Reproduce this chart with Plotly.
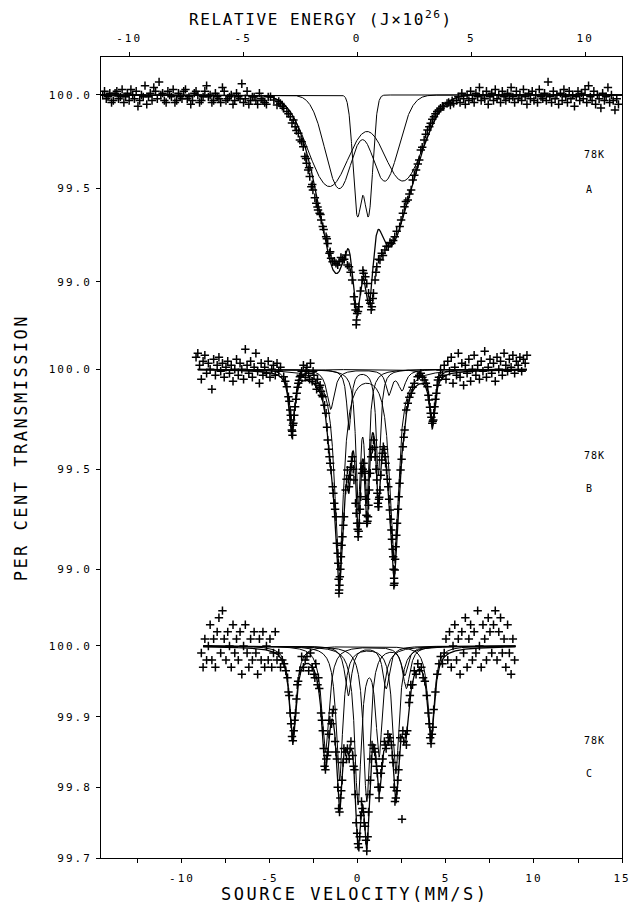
import numpy as np
import plotly.graph_objects as go

# ---------------- tick labels ----------------
x_tick_vals = [-12.5, -10, -7.5, -5, -2.5, 0, 2.5, 5, 7.5, 10, 12.5, 15]
x_tick_text = ["", "-10", "", "-5", "", "0", "", "5", "", "10", "", "15"]
x2_tick_vals = [-10, -5, 0, 5, 10]
x2_tick_text = ["-10", "-5", "0", "5", "10"]
yA_tick_vals = [100.0, 99.5, 99.0]
yA_tick_text = ["100.0", "99.5", "99.0"]
yB_tick_vals = [100.0, 99.5, 99.0]
yB_tick_text = ["100.0", "99.5", "99.0"]
yC_tick_vals = [100.0, 99.9, 99.8, 99.7]
yC_tick_text = ["100.0", "99.9", "99.8", "99.7"]

panel_temp = ["78K", "78K", "78K"]
panel_name = ["A", "B", "C"]

# ---------------- fitted line parameters ----------------
# Panel A (broad lines, gaussian-like shape): centre mm/s, depth %, sigma mm/s, component
A_line_pos = [-1.63, 2.55, -1.07, 1.53, -0.04, 0.60]
A_line_depth = [0.49, 0.46, 0.50, 0.46, 0.63, 0.63]
A_line_sigma = [1.20, 1.15, 0.78, 0.78, 0.245, 0.245]
A_line_comp = [0, 0, 1, 1, 2, 2]

# Panel B (lorentzian): centre, depth, FWHM, component
B_line_pos = [-1.07, 2.05, -0.51, 1.16, 0.01, 0.51, -1.55, 1.75, 2.50, -3.76, 4.22]
B_line_depth = [1.00, 0.95, 0.30, 0.53, 0.66, 0.62, 0.20, 0.12, 0.10, 0.32, 0.27]
B_line_fwhm = [0.60, 0.60, 0.30, 0.30, 0.30, 0.30, 0.50, 0.40, 0.50, 0.36, 0.36]
B_line_comp = [0, 0, 1, 1, 2, 2, 3, 3, 3, 4, 4]

# Panel C (lorentzian)
C_line_pos = [-1.05, 2.15, -0.55, 1.60, 0.00, 1.20, 0.50, 2.65, -3.70, 4.15, -1.85, 2.75]
C_line_depth = [0.19, 0.18, 0.07, 0.06, 0.22, 0.15, 0.22, 0.04, 0.13, 0.13, 0.15, 0.06]
C_line_fwhm = [0.45, 0.45, 0.45, 0.45, 0.45, 0.45, 0.45, 0.45, 0.45, 0.45, 0.50, 0.50]
C_line_comp = [0, 0, 1, 1, 2, 2, 3, 3, 4, 4, 5, 5]

A_fit_span = [-14.6, 15.0]
B_fit_span = [-9.1, 9.6]
C_fit_span = [-8.8, 8.95]

# ---------------- measured points (velocity mm/s, per cent transmission) ----------------
A_base_left = [
    (-14.5, 100.00), (-14.4, 100.02), (-14.3, 99.98), (-14.2, 99.99), (-14.1, 100.01),
    (-14.0, 99.96), (-13.9, 99.97), (-13.8, 100.01), (-13.7, 100.02), (-13.6, 99.98),
    (-13.5, 99.99), (-13.4, 100.03), (-13.3, 99.96), (-13.2, 99.99), (-13.1, 100.01),
    (-13.0, 99.97), (-12.9, 100.03), (-12.8, 100.00), (-12.7, 99.98), (-12.6, 100.02),
    (-12.5, 99.94), (-12.4, 99.97), (-12.3, 100.00), (-12.2, 99.99), (-12.1, 100.05),
    (-12.0, 99.95), (-11.9, 99.99), (-11.8, 100.01), (-11.7, 99.97), (-11.6, 100.04),
    (-11.5, 100.02), (-11.4, 99.98), (-11.3, 100.07), (-11.2, 100.00), (-11.1, 100.01),
    (-11.0, 99.97), (-10.9, 99.96), (-10.8, 100.02), (-10.7, 100.00), (-10.6, 99.99),
    (-10.5, 100.03), (-10.4, 99.96), (-10.3, 99.97), (-10.2, 100.01), (-10.1, 99.99),
    (-10.0, 99.98), (-9.9, 100.02), (-9.8, 100.03), (-9.7, 99.98), (-9.6, 99.99),
    (-9.5, 99.95), (-9.4, 99.97), (-9.3, 100.01), (-9.2, 100.02), (-9.1, 100.00),
    (-9.0, 99.96), (-8.9, 99.97), (-8.8, 99.99), (-8.7, 100.02), (-8.6, 100.05),
    (-8.5, 99.99), (-8.4, 100.00), (-8.3, 99.96), (-8.2, 99.97), (-8.1, 100.01),
    (-8.0, 99.99), (-7.9, 99.98), (-7.8, 99.96), (-7.7, 100.04), (-7.6, 100.02),
    (-7.5, 99.97), (-7.4, 99.98), (-7.3, 99.99), (-7.2, 100.00), (-7.1, 99.95),
    (-7.0, 99.97), (-6.9, 100.01), (-6.8, 99.99), (-6.7, 99.98), (-6.6, 100.06),
    (-6.5, 99.96), (-6.4, 99.98), (-6.3, 100.02), (-6.2, 99.95), (-6.1, 99.97),
    (-6.0, 99.99), (-5.9, 99.99), (-5.8, 99.97), (-5.7, 99.95), (-5.6, 100.01),
    (-5.5, 99.98), (-5.4, 99.97), (-5.3, 99.96), (-5.2, 99.95), (-5.1, 99.99),
]
A_core = [
    (-4.97, 99.991), (-4.78, 99.973), (-4.60, 99.946), (-4.41, 99.955), (-4.22, 99.929),
    (-4.04, 99.911), (-3.85, 99.884), (-3.67, 99.866), (-3.57, 99.830), (-3.39, 99.795),
    (-3.30, 99.759), (-3.11, 99.723), (-3.02, 99.670), (-2.92, 99.634), (-2.83, 99.598),
    (-2.74, 99.563), (-2.65, 99.509), (-2.56, 99.491), (-2.37, 99.420), (-2.27, 99.384),
    (-2.18, 99.366), (-2.09, 99.330), (-2.00, 99.295), (-1.81, 99.241), (-1.72, 99.205),
    (-1.62, 99.152), (-1.53, 99.125), (-1.44, 99.107), (-1.25, 99.098), (-1.07, 99.107),
    (-0.88, 99.116), (-0.70, 99.143), (-0.60, 99.089), (-0.51, 99.080), (-0.33, 99.009),
    (-0.23, 98.920), (-0.14, 98.848), (-0.08, 98.795), (-0.05, 98.830), (0.05, 98.866),
    (0.23, 99.009), (0.32, 99.045), (0.42, 99.027), (0.60, 98.938), (0.70, 98.884),
    (0.79, 98.866), (0.88, 98.938), (0.97, 99.009), (1.07, 99.080), (1.25, 99.116),
    (1.35, 99.152), (1.53, 99.170), (1.72, 99.188), (1.90, 99.205), (2.09, 99.241),
    (2.37, 99.295), (2.55, 99.366), (2.64, 99.402), (2.83, 99.438), (3.02, 99.491),
    (3.11, 99.545), (3.30, 99.598), (3.48, 99.652), (3.57, 99.705), (3.76, 99.759),
    (3.95, 99.813), (4.13, 99.848), (4.32, 99.884), (4.50, 99.911), (4.69, 99.929),
    (4.87, 99.938), (5.06, 99.955), (5.25, 99.946), (5.43, 99.955),
]
A_core_extra = [
    (-4.5, 99.965), (-4.3, 99.94), (-3.95, 99.90), (-3.75, 99.85), (-3.5, 99.81),
    (-3.2, 99.75), (-2.95, 99.66), (-2.78, 99.61), (-2.6, 99.52), (-2.45, 99.45),
    (-2.3, 99.40), (-2.13, 99.36), (-1.95, 99.28), (-1.77, 99.23), (-1.58, 99.16),
    (-1.35, 99.11), (-1.15, 99.09), (-0.97, 99.13), (-0.78, 99.12), (-0.42, 99.05),
    (-0.19, 98.88), (-0.10, 98.77), (0.00, 98.84), (0.14, 98.95), (0.28, 99.06),
    (0.50, 98.99), (0.65, 98.90), (0.75, 98.85), (0.84, 98.91), (1.02, 99.05),
    (1.17, 99.12), (1.42, 99.14), (1.62, 99.19), (1.82, 99.21), (2.00, 99.22),
    (2.20, 99.27), (2.45, 99.33), (2.72, 99.43), (2.92, 99.47), (3.20, 99.57),
    (3.40, 99.63), (3.65, 99.72), (3.85, 99.79), (4.05, 99.83), (4.22, 99.87),
    (4.40, 99.90), (4.60, 99.92), (4.80, 99.94), (5.15, 99.96), (5.35, 99.97),
]
A_base_right = [
    (5.6, 99.97), (5.7, 99.99), (5.8, 99.96), (5.9, 100.01), (6.0, 99.98),
    (6.1, 99.95), (6.2, 100.00), (6.3, 99.97), (6.4, 100.02), (6.5, 99.98),
    (6.6, 99.96), (6.7, 100.01), (6.8, 99.99), (6.9, 100.04), (7.0, 99.97),
    (7.1, 100.00), (7.2, 99.98), (7.3, 100.02), (7.4, 99.95), (7.5, 99.99),
    (7.6, 100.01), (7.7, 99.97), (7.8, 100.03), (7.9, 99.98), (8.0, 100.00),
    (8.1, 99.96), (8.2, 100.02), (8.3, 99.99), (8.4, 99.97), (8.5, 100.01),
    (8.6, 99.98), (8.7, 100.04), (8.8, 99.99), (8.9, 99.96), (9.0, 100.02),
    (9.1, 99.98), (9.2, 100.00), (9.3, 99.97), (9.4, 100.03), (9.5, 99.99),
    (9.6, 99.95), (9.7, 100.01), (9.8, 99.98), (9.9, 100.02), (10.0, 99.97),
    (10.1, 100.00), (10.2, 99.96), (10.3, 100.03), (10.4, 99.99), (10.5, 99.98),
    (10.6, 100.01), (10.7, 99.97), (10.8, 100.07), (10.9, 99.99), (11.0, 99.96),
    (11.1, 100.02), (11.2, 99.98), (11.3, 100.00), (11.4, 99.95), (11.5, 100.01),
    (11.6, 99.97), (11.7, 100.03), (11.8, 99.99), (11.9, 99.96), (12.0, 100.02),
    (12.1, 99.98), (12.2, 100.00), (12.3, 99.94), (12.4, 99.99), (12.5, 100.02),
    (12.6, 99.97), (12.7, 100.01), (12.8, 99.98), (12.9, 100.03), (13.0, 99.96),
    (13.1, 100.05), (13.2, 99.99), (13.3, 99.97), (13.4, 100.02), (13.5, 99.95),
    (13.6, 100.00), (13.7, 99.98), (13.8, 99.93), (13.9, 100.01), (14.0, 99.97),
    (14.1, 99.99), (14.2, 100.04), (14.3, 99.96), (14.4, 100.00), (14.5, 99.97),
    (14.6, 99.92), (14.7, 99.98), (14.8, 99.95),
]

B_base_left = [
    (-9.2, 100.06), (-9.1, 100.08), (-9.0, 100.02), (-8.9, 99.95), (-8.8, 100.04),
    (-8.7, 100.07), (-8.6, 99.98), (-8.5, 100.03), (-8.4, 100.00), (-8.3, 99.90),
    (-8.2, 100.05), (-8.1, 99.97), (-8.0, 100.02), (-7.9, 100.06), (-7.8, 99.99),
    (-7.7, 100.03), (-7.6, 99.96), (-7.5, 100.01), (-7.4, 100.04), (-7.3, 99.98),
    (-7.2, 100.02), (-7.1, 99.94), (-7.0, 100.00), (-6.9, 100.05), (-6.8, 99.97),
    (-6.7, 100.03), (-6.6, 100.00), (-6.5, 99.95), (-6.4, 100.10), (-6.3, 100.02),
    (-6.2, 99.98), (-6.1, 100.04), (-6.0, 99.96), (-5.9, 100.01), (-5.8, 100.08),
    (-5.7, 99.99), (-5.6, 99.93), (-5.5, 100.03), (-5.4, 99.97), (-5.3, 100.01),
    (-5.2, 99.98), (-5.1, 100.04), (-5.0, 99.96), (-4.9, 100.00), (-4.8, 100.02),
    (-4.7, 99.97), (-4.6, 100.03), (-4.5, 99.99), (-4.4, 100.01),
]
B_outer_left = [
    (-4.22, 99.963), (-4.13, 99.94), (-4.04, 99.913), (-3.95, 99.863), (-3.90, 99.84),
    (-3.85, 99.797), (-3.82, 99.77), (-3.80, 99.746), (-3.76, 99.696), (-3.74, 99.69),
    (-3.72, 99.670), (-3.70, 99.72), (-3.67, 99.730), (-3.62, 99.77), (-3.57, 99.813),
    (-3.52, 99.85), (-3.48, 99.880), (-3.43, 99.91), (-3.39, 99.930), (-3.35, 99.945),
    (-3.30, 99.963),
]
B_gap = [
    (-3.25, 99.97), (-3.2, 99.99), (-3.1, 100.02), (-3.0, 99.96), (-2.95, 99.99),
    (-2.9, 100.01), (-2.8, 99.98), (-2.75, 99.95), (-2.7, 100.03), (-2.6, 99.94),
    (-2.55, 99.99), (-2.5, 99.97), (-2.4, 99.93), (-2.35, 99.90), (-2.3, 99.95),
    (-2.2, 99.91), (-2.15, 99.92), (-2.1, 99.89), (-2.05, 99.87),
]
B_core = [
    (-2.00, 99.863), (-1.81, 99.78), (-1.72, 99.646), (-1.62, 99.563), (-1.53, 99.496),
    (-1.44, 99.413), (-1.35, 99.33), (-1.25, 99.263), (-1.20, 99.13), (-1.12, 99.03),
    (-1.07, 98.897), (-1.03, 98.963), (-0.97, 99.063), (-0.88, 99.163), (-0.79, 99.263),
    (-0.70, 99.396), (-0.60, 99.496), (-0.51, 99.413), (-0.42, 99.51), (-0.32, 99.563),
    (-0.23, 99.446), (-0.14, 99.33), (-0.05, 99.23), (0.01, 99.163), (0.08, 99.23),
    (0.16, 99.363), (0.23, 99.48), (0.32, 99.53), (0.42, 99.446), (0.51, 99.23),
    (0.57, 99.263), (0.64, 99.396), (0.75, 99.563), (0.88, 99.646), (0.97, 99.563),
    (1.07, 99.446), (1.16, 99.313), (1.25, 99.396), (1.35, 99.546), (1.44, 99.613),
    (1.53, 99.563), (1.62, 99.496), (1.72, 99.413), (1.81, 99.296), (1.90, 99.196),
    (2.00, 99.063), (2.05, 98.955), (2.09, 98.996), (2.14, 99.113), (2.22, 99.23),
    (2.31, 99.363), (2.42, 99.496), (2.55, 99.613), (2.65, 99.696), (2.74, 99.796),
    (2.83, 99.83), (3.02, 99.88), (3.20, 99.93), (3.39, 99.963), (3.57, 99.98),
]
B_core_extra = [
    (-1.10, 98.95), (-1.05, 98.92), (-1.15, 99.08), (-1.00, 99.00), (-1.30, 99.30),
    (-1.40, 99.38), (-0.93, 99.12), (-0.83, 99.22), (2.02, 99.00), (2.07, 98.93),
    (2.11, 99.05), (1.97, 99.10), (1.93, 99.15), (2.18, 99.17), (2.27, 99.30),
    (-0.55, 99.45), (-0.47, 99.47), (0.04, 99.19), (-0.02, 99.20), (0.48, 99.27),
    (0.54, 99.24), (1.13, 99.33), (1.19, 99.35), (-1.58, 99.53), (-1.67, 99.60),
    (-1.76, 99.71), (1.85, 99.25), (1.77, 99.35), (1.67, 99.45), (2.36, 99.43),
    (2.48, 99.55), (2.60, 99.66), (-1.90, 99.82), (2.92, 99.86), (3.10, 99.91),
    (0.70, 99.48), (0.81, 99.60), (0.93, 99.61), (1.40, 99.58), (0.27, 99.50),
    (-0.27, 99.50), (-0.65, 99.45), (-0.37, 99.54), (0.12, 99.30), (-0.10, 99.28),
    (0.37, 99.49), (0.46, 99.35), (0.60, 99.32), (1.03, 99.50), (1.10, 99.38),
    (1.21, 99.36), (1.30, 99.47), (1.48, 99.60), (1.57, 99.53), (2.04, 98.92),
    (-1.08, 98.88),
]
B_outer_right = [
    (3.48, 99.97), (3.66, 99.96), (3.76, 99.946), (3.86, 99.93), (3.95, 99.913),
    (4.00, 99.87), (4.04, 99.846), (4.09, 99.81), (4.13, 99.78), (4.17, 99.76),
    (4.22, 99.73), (4.25, 99.74), (4.28, 99.746), (4.31, 99.78), (4.35, 99.813),
    (4.40, 99.85), (4.45, 99.88), (4.50, 99.92), (4.54, 99.946), (4.60, 99.96),
    (4.69, 99.996),
]
B_base_right = [
    (4.8, 99.97), (4.9, 100.02), (5.0, 99.95), (5.1, 100.04), (5.2, 99.99),
    (5.3, 100.06), (5.4, 99.93), (5.5, 100.01), (5.6, 99.97), (5.7, 100.08),
    (5.8, 99.96), (5.9, 100.03), (6.0, 99.92), (6.1, 100.02), (6.2, 99.98),
    (6.3, 100.05), (6.4, 99.94), (6.5, 100.00), (6.6, 100.07), (6.7, 99.97),
    (6.8, 100.02), (6.9, 99.95), (7.0, 100.04), (7.1, 99.99), (7.2, 100.09),
    (7.3, 99.96), (7.4, 100.01), (7.5, 100.05), (7.6, 99.98), (7.7, 100.03),
    (7.8, 99.94), (7.9, 100.06), (8.0, 100.00), (8.1, 100.04), (8.2, 99.97),
    (8.3, 100.08), (8.4, 100.02), (8.5, 99.99), (8.6, 100.05), (8.7, 100.01),
    (8.8, 100.07), (8.9, 99.98), (9.0, 100.04), (9.1, 100.02), (9.2, 100.06),
    (9.3, 99.99), (9.4, 100.05), (9.5, 100.03), (9.6, 100.07),
]

C_base_left = [
    (-8.9, 99.99), (-8.8, 99.97), (-8.7, 100.01), (-8.6, 99.98), (-8.5, 100.00),
    (-8.4, 100.03), (-8.3, 99.98), (-8.2, 100.01), (-8.1, 99.97), (-8.0, 100.02),
    (-7.9, 100.04), (-7.8, 99.99), (-7.7, 100.05), (-7.6, 100.01), (-7.5, 99.98),
    (-7.4, 100.02), (-7.3, 100.00), (-7.2, 99.97), (-7.1, 100.03), (-7.0, 99.99),
    (-6.9, 100.01), (-6.8, 99.98), (-6.7, 100.02), (-6.6, 99.96), (-6.5, 100.00),
    (-6.4, 100.03), (-6.3, 99.99), (-6.2, 99.97), (-6.1, 100.01), (-6.0, 99.98),
    (-5.9, 100.02), (-5.8, 99.99), (-5.7, 99.96), (-5.6, 100.01), (-5.5, 99.98),
    (-5.4, 100.02), (-5.3, 99.97), (-5.2, 100.00), (-5.1, 99.98), (-5.0, 100.01),
    (-4.9, 99.97), (-4.8, 99.99), (-4.7, 100.02), (-4.6, 99.98), (-4.5, 99.99),
    (-4.4, 99.97),
]
C_outer_left = [
    (-4.3, 99.98), (-4.2, 99.975), (-4.1, 99.965), (-4.0, 99.955), (-3.95, 99.935),
    (-3.9, 99.93), (-3.85, 99.905), (-3.8, 99.89), (-3.75, 99.872), (-3.7, 99.866),
    (-3.65, 99.88), (-3.6, 99.895), (-3.55, 99.905), (-3.5, 99.925), (-3.45, 99.945),
    (-3.4, 99.95), (-3.3, 99.965), (-3.2, 99.985), (-3.1, 99.97), (-3.0, 99.98),
]
C_core = [
    (-2.9, 99.985), (-2.8, 99.965), (-2.7, 99.99), (-2.6, 99.97), (-2.5, 99.96),
    (-2.4, 99.975), (-2.3, 99.945), (-2.2, 99.94), (-2.1, 99.905), (-2.0, 99.88),
    (-1.9, 99.83), (-1.8, 99.84), (-1.7, 99.85), (-1.6, 99.895), (-1.5, 99.89),
    (-1.4, 99.91), (-1.3, 99.865), (-1.2, 99.84), (-1.1, 99.77), (-1.0, 99.785),
    (-0.9, 99.81), (-0.8, 99.855), (-0.7, 99.85), (-0.6, 99.855), (-0.5, 99.84),
    (-0.4, 99.865), (-0.3, 99.845), (-0.2, 99.825), (-0.1, 99.75), (0.0, 99.72),
    (0.1, 99.73), (0.2, 99.78), (0.3, 99.765), (0.4, 99.745), (0.5, 99.71),
    (0.6, 99.765), (0.7, 99.81), (0.8, 99.86), (0.9, 99.855), (1.0, 99.84),
    (1.1, 99.82), (1.2, 99.785), (1.3, 99.82), (1.4, 99.84), (1.5, 99.865),
    (1.6, 99.855), (1.7, 99.875), (1.8, 99.87), (1.9, 99.86), (2.0, 99.835),
    (2.1, 99.78), (2.2, 99.795), (2.3, 99.825), (2.4, 99.87), (2.5, 99.755),
    (2.6, 99.865), (2.7, 99.875), (2.8, 99.88), (2.9, 99.92), (3.0, 99.945),
    (3.1, 99.945), (3.2, 99.965), (3.3, 99.96), (3.4, 99.975), (3.5, 99.965),
    (3.6, 99.97), (3.7, 99.955), (3.8, 99.95), (3.9, 99.93), (4.0, 99.905),
    (4.05, 99.89), (4.1, 99.87), (4.15, 99.862), (4.2, 99.875), (4.25, 99.885),
    (4.3, 99.91), (4.4, 99.935), (4.5, 99.96), (4.6, 99.975), (4.7, 99.985),
    (4.8, 99.975),
]
C_core_extra = [
    (-2.45, 99.955), (-2.25, 99.955), (-2.05, 99.895), (-1.95, 99.855), (-1.85, 99.825),
    (-1.75, 99.845), (-1.65, 99.875), (-1.45, 99.905), (-1.25, 99.85), (-1.15, 99.80),
    (-1.05, 99.765), (-0.95, 99.795), (-0.85, 99.835), (-0.65, 99.84), (-0.45, 99.855),
    (-0.25, 99.83), (-0.15, 99.79), (-0.05, 99.735), (0.05, 99.715), (0.15, 99.76),
    (0.25, 99.77), (0.35, 99.75), (0.45, 99.725), (0.55, 99.73), (0.65, 99.79),
    (0.75, 99.84), (0.95, 99.85), (1.05, 99.83), (1.15, 99.80), (1.25, 99.80),
    (1.35, 99.83), (1.55, 99.86), (1.75, 99.865), (1.95, 99.845), (2.05, 99.80),
    (2.15, 99.785), (2.25, 99.81), (2.35, 99.845), (2.55, 99.88), (2.75, 99.86),
    (2.95, 99.93),
]
C_base_right = [
    (4.9, 99.99), (5.0, 100.01), (5.1, 99.98), (5.2, 100.02), (5.3, 99.97),
    (5.4, 100.00), (5.5, 100.03), (5.6, 99.98), (5.7, 100.01), (5.8, 99.96),
    (5.9, 100.02), (6.0, 99.99), (6.1, 100.04), (6.2, 99.97), (6.3, 100.01),
    (6.4, 100.03), (6.5, 99.98), (6.6, 100.02), (6.7, 99.99), (6.8, 100.05),
    (6.9, 100.00), (7.0, 99.97), (7.1, 100.03), (7.2, 100.01), (7.3, 99.98),
    (7.4, 100.04), (7.5, 100.02), (7.6, 99.99), (7.7, 100.03), (7.8, 100.05),
    (7.9, 99.98), (8.0, 100.02), (8.1, 100.04), (8.2, 99.99), (8.3, 100.01),
    (8.4, 99.97), (8.5, 100.03), (8.6, 99.99), (8.7, 99.96), (8.8, 100.01),
    (8.9, 99.98),
]

# ---------------- helpers ----------------
def unzip(*segments):
    pts = [p for seg in segments for p in seg]
    return [p[0] for p in pts], [p[1] for p in pts]


def gauss_dip(v, c, d, s):
    return d * np.exp(-0.5 * ((v - c) / s) ** 2)


def lor_dip(v, c, d, fwhm):
    return d / (1.0 + ((v - c) / (fwhm / 2.0)) ** 2)


def model(span, pos, depth, width, comp, shape):
    v = np.linspace(span[0], span[1], 4000)
    ncomp = max(comp) + 1
    comps = [np.zeros_like(v) for _ in range(ncomp)]
    for c, d, w, k in zip(pos, depth, width, comp):
        comps[k] = comps[k] + shape(v, c, d, w)
    total = 100.0 - sum(comps)
    return v, [100.0 - cc for cc in comps], total


fig = go.Figure()

marker_style = dict(symbol="cross-thin", size=6, line=dict(width=1.5, color="black"), color="black")

panels = [
    ("y", unzip(A_base_left, A_core, A_core_extra, A_base_right),
     model(A_fit_span, A_line_pos, A_line_depth, A_line_sigma, A_line_comp, gauss_dip)),
    ("y2", unzip(B_base_left, B_outer_left, B_gap, B_core, B_core_extra, B_outer_right, B_base_right),
     model(B_fit_span, B_line_pos, B_line_depth, B_line_fwhm, B_line_comp, lor_dip)),
    ("y3", unzip(C_base_left, C_outer_left, C_core, C_core_extra, C_base_right),
     model(C_fit_span, C_line_pos, C_line_depth, C_line_fwhm, C_line_comp, lor_dip)),
]

for yax, (dv, dt), (mv, mcomps, mtot) in panels:
    fig.add_trace(go.Scatter(x=dv, y=dt, mode="markers", marker=marker_style,
                             xaxis="x", yaxis=yax, hoverinfo="skip", cliponaxis=True))
    for cc in mcomps:
        fig.add_trace(go.Scatter(x=mv, y=cc, mode="lines", line=dict(color="black", width=1.0),
                                 xaxis="x", yaxis=yax, hoverinfo="skip"))
    fig.add_trace(go.Scatter(x=mv, y=mtot, mode="lines", line=dict(color="black", width=1.3),
                             xaxis="x", yaxis=yax, hoverinfo="skip"))

# anchor trace for the top (energy) axis
fig.add_trace(go.Scatter(x=[0], y=[100], mode="markers", marker=dict(opacity=0),
                         xaxis="x2", yaxis="y", hoverinfo="skip"))

FONT = "DejaVu Sans Mono"


def spaced(t, px=2):
    return '<span style="letter-spacing:%spx">%s</span>' % (px, t) if t else " "


tick_font = dict(family=FONT, size=11, color="black")
common_y = dict(showgrid=False, zeroline=False, ticks="outside", ticklen=4, tickwidth=1,
                tickcolor="black", tickfont=tick_font, ticklabelstandoff=2)

fig.update_layout(
    width=641, height=905,
    margin=dict(l=101, r=10, t=57, b=47),
    paper_bgcolor="white", plot_bgcolor="white", showlegend=False,
    font=dict(family=FONT, color="black", size=11),
    xaxis=dict(range=[-14.6, 15.0], tickvals=x_tick_vals,
               ticktext=[spaced(t) for t in x_tick_text],
               ticks="outside", ticklen=4, tickwidth=1, tickcolor="black",
               showline=True, linecolor="black", linewidth=1, mirror=True,
               showgrid=False, zeroline=False, tickfont=tick_font, ticklabelstandoff=6),
    xaxis2=dict(overlaying="x", side="top", anchor="y", range=[-11.233, 11.612],
                tickvals=x2_tick_vals, ticktext=[spaced(t) for t in x2_tick_text],
                ticks="outside", ticklen=4, tickwidth=1, tickcolor="black",
                showline=False, showgrid=False, zeroline=False, tickfont=tick_font,
                ticklabelstandoff=6),
    yaxis=dict(range=[95.9132, 100.2035], tickvals=yA_tick_vals,
               ticktext=[spaced(t) for t in yA_tick_text],
               showline=True, linecolor="black", linewidth=1, mirror=True, **common_y),
    yaxis2=dict(overlaying="y", side="left", anchor="x", range=[97.5565, 101.5615],
                tickvals=yB_tick_vals, ticktext=[spaced(t) for t in yB_tick_text],
                showline=False, **common_y),
    yaxis3=dict(overlaying="y", side="left", anchor="x", range=[99.7, 100.8334],
                tickvals=yC_tick_vals, ticktext=[spaced(t) for t in yC_tick_text],
                showline=False, **common_y),
)

title_font = dict(family=FONT, size=17, color="black")
annotations = [
    dict(text=spaced("SOURCE VELOCITY(MM/S)", 2.5), x=0.4868, y=-0.0449,
         xref="paper", yref="paper", showarrow=False, font=title_font,
         xanchor="center", yanchor="middle"),
    dict(text=spaced("RELATIVE ENERGY (J×10<sup>26</sup>)", 1.6), x=0.4226, y=1.0482,
         xref="paper", yref="paper", showarrow=False,
         font=dict(family=FONT, size=16, color="black"),
         xanchor="center", yanchor="middle"),
    dict(text=spaced("PER CENT TRANSMISSION", 2.5), x=-0.1528, y=0.5119,
         xref="paper", yref="paper", showarrow=False, font=title_font, textangle=-90,
         xanchor="center", yanchor="middle"),
]
label_y = [(0.8777, 0.8340), (0.5019, 0.4619), (0.1461, 0.1049)]
for (yt, yn), tt, nn in zip(label_y, panel_temp, panel_name):
    annotations.append(dict(text=spaced(tt, 1), x=0.9465, y=yt, xref="paper", yref="paper",
                            showarrow=False, font=dict(family=FONT, size=10, color="black"),
                            xanchor="center", yanchor="middle"))
    annotations.append(dict(text=nn, x=0.9375, y=yn, xref="paper", yref="paper",
                            showarrow=False, font=dict(family=FONT, size=10, color="black"),
                            xanchor="center", yanchor="middle"))
fig.update_layout(annotations=annotations)

# remove the default page margin so the 641x905 figure fills the window exactly
fig.write_html("out.html",
               config={"displayModeBar": False},
               post_script="document.body.style.margin='0px';"
                           "document.body.style.overflow='hidden';")
